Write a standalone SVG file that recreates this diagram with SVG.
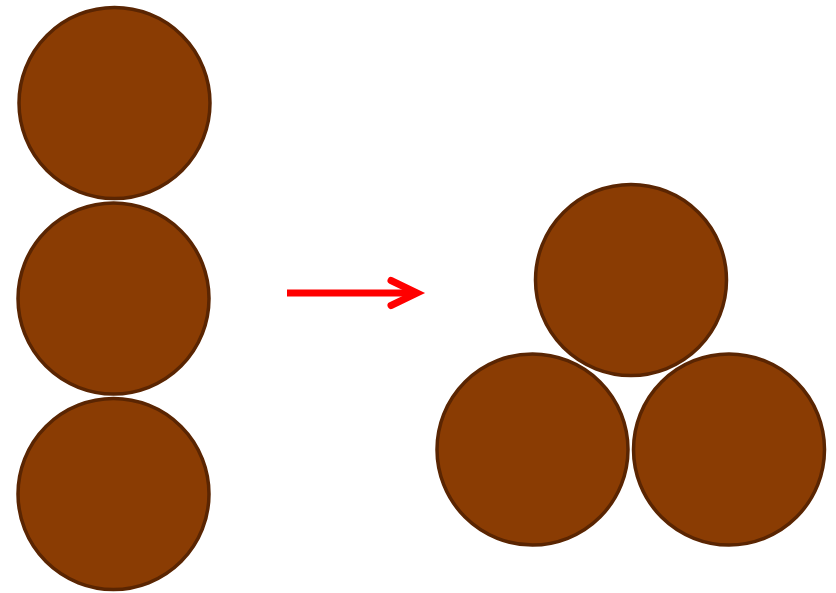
<svg xmlns="http://www.w3.org/2000/svg" width="836" height="593" viewBox="0 0 836 593">
<style>
.c{fill:#8a3c03;stroke:#5a2502;stroke-width:3.5}
.a{fill:none;stroke:#ff0000;stroke-width:7}
</style>
<rect width="836" height="593" fill="#fff"/>
<g id="left-top"><circle class="c" cx="114.5" cy="103" r="95.5"/></g>
<g id="left-mid"><circle class="c" cx="113.5" cy="298.5" r="95.5"/></g>
<g id="left-bot"><circle class="c" cx="113.5" cy="494" r="95.5"/></g>
<g id="right-top"><circle class="c" cx="631" cy="280" r="95.5"/></g>
<g id="right-left"><circle class="c" cx="532.5" cy="449.5" r="95.5"/></g>
<g id="right-right"><circle class="c" cx="729" cy="449.5" r="95.5"/></g>
<g id="connectors">
<line class="a" x1="287" y1="293" x2="416" y2="293"/>
<polyline class="a" points="391,280.5 417,293 391,305.5" stroke-linecap="round" stroke-linejoin="miter"/>
</g>
</svg>
